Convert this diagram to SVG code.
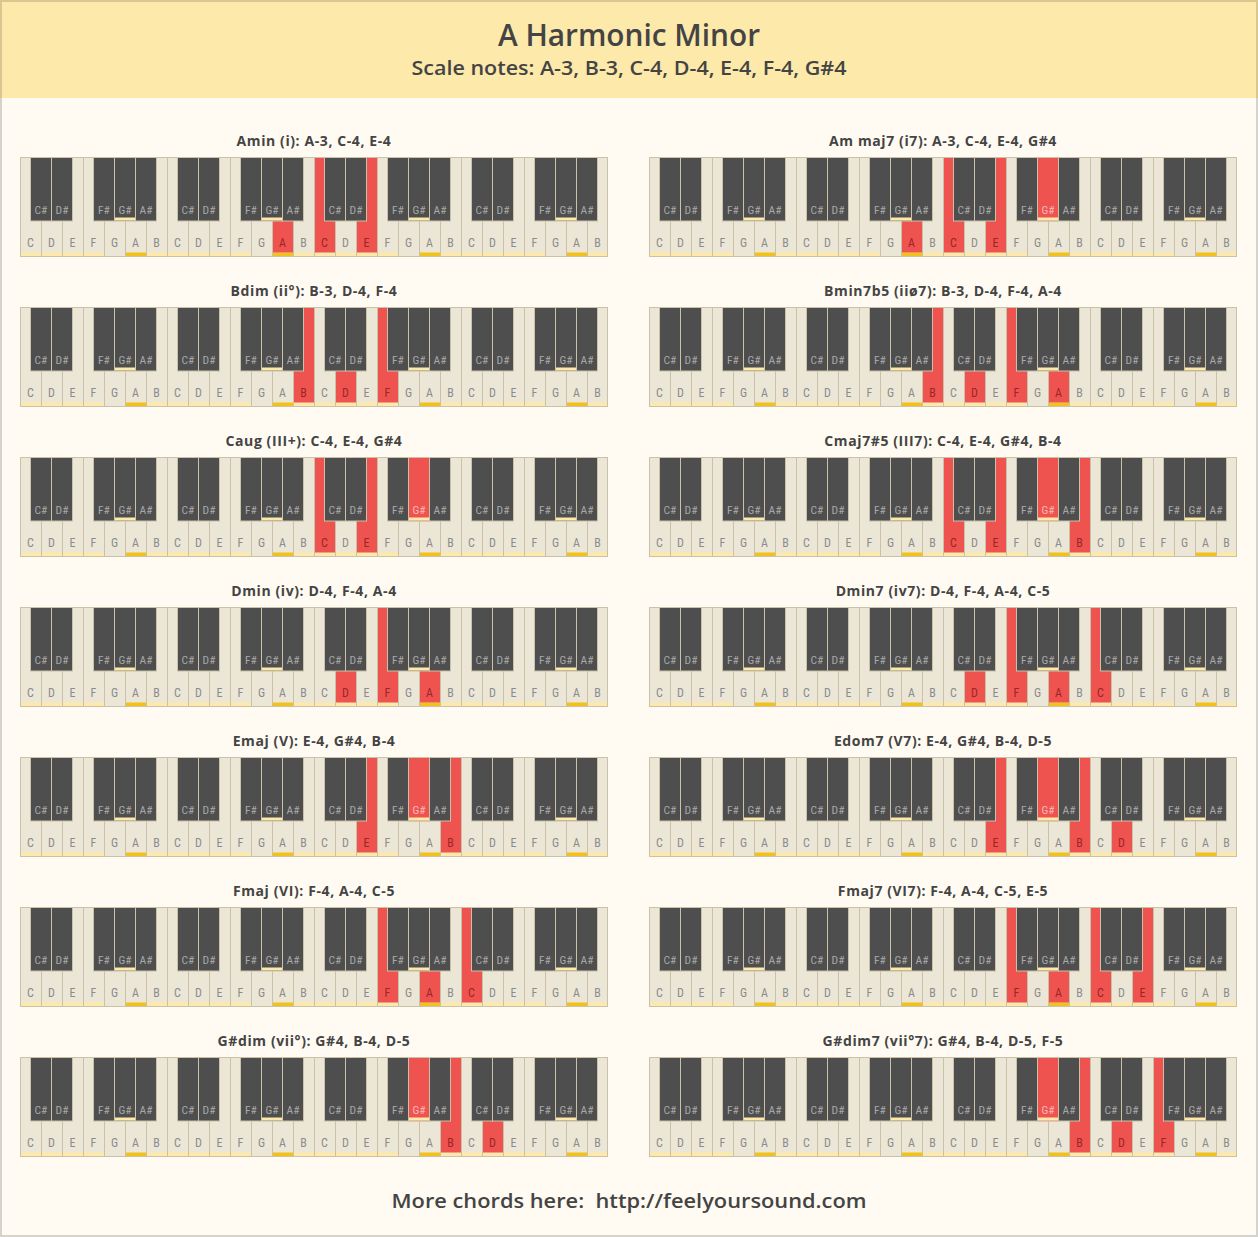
<svg xmlns="http://www.w3.org/2000/svg" xmlns:xlink="http://www.w3.org/1999/xlink" width="1258" height="1237" viewBox="0 0 1258 1237">
<style>
.lw{font-family:'Liberation Sans Narrow','Roboto Condensed',Roboto,sans-serif;font-size:12px;fill:#8c8c8c;text-anchor:middle}
.lb{font-family:'Liberation Sans Narrow','Roboto Condensed',Roboto,sans-serif;font-size:11.5px;fill:#a8a8a8;text-anchor:middle}
.lwr{font-family:'Liberation Sans Narrow','Roboto Condensed',Roboto,sans-serif;font-size:12px;fill:#9a2626;text-anchor:middle}
.lbr{font-family:'Liberation Sans Narrow','Roboto Condensed',Roboto,sans-serif;font-size:11.5px;fill:#f7b8b5;text-anchor:middle}
.rw{fill:#ef5350}
.rb{fill:#ef5350;stroke:#c9c1a8;stroke-width:1}
.bk{fill:#4e4e4e;stroke:#c9c1a8;stroke-width:1}
.sl{fill:#fde9a9}
.sg{fill:#f2c21b}
.t{font-family:'Open Sans',sans-serif;font-weight:700;font-size:14px;letter-spacing:0.6px;fill:#444;text-anchor:middle}
.h{font-family:'Open Sans',sans-serif;font-weight:600;fill:#444;text-anchor:middle}
</style>
<defs>
<g id="whites">
<rect x="0.5" y="0.5" width="587" height="99" fill="#ebe6d6" stroke="#c9c1a8"/>
<path d="M21.5 0V100M42.5 0V100M63.5 0V100M84.5 0V100M105.5 0V100M126.5 0V100M147.5 0V100M168.5 0V100M189.5 0V100M210.5 0V100M231.5 0V100M252.5 0V100M273.5 0V100M294.5 0V100M315.5 0V100M336.5 0V100M357.5 0V100M378.5 0V100M399.5 0V100M420.5 0V100M441.5 0V100M462.5 0V100M483.5 0V100M504.5 0V100M525.5 0V100M546.5 0V100M567.5 0V100" stroke="#c9c1a8" fill="none"/>
<g class="sl">
<rect x="1" y="95.5" width="20" height="3.5"/><rect x="22" y="95.5" width="20" height="3.5"/><rect x="43" y="95.5" width="20" height="3.5"/><rect x="64" y="95.5" width="20" height="3.5"/><rect x="127" y="95.5" width="20" height="3.5"/>
<rect x="148" y="95.5" width="20" height="3.5"/><rect x="169" y="95.5" width="20" height="3.5"/><rect x="190" y="95.5" width="20" height="3.5"/><rect x="211" y="95.5" width="20" height="3.5"/><rect x="274" y="95.5" width="20" height="3.5"/>
<rect x="295" y="95.5" width="20" height="3.5"/><rect x="316" y="95.5" width="20" height="3.5"/><rect x="337" y="95.5" width="20" height="3.5"/><rect x="358" y="95.5" width="20" height="3.5"/><rect x="421" y="95.5" width="20" height="3.5"/>
<rect x="442" y="95.5" width="20" height="3.5"/><rect x="463" y="95.5" width="20" height="3.5"/><rect x="484" y="95.5" width="20" height="3.5"/><rect x="505" y="95.5" width="20" height="3.5"/><rect x="568" y="95.5" width="19" height="3.5"/>
</g>
<g class="sg">
<rect x="106" y="95.5" width="20" height="3.5"/><rect x="253" y="95.5" width="20" height="3.5"/><rect x="400" y="95.5" width="20" height="3.5"/><rect x="547" y="95.5" width="20" height="3.5"/>
</g>
<g class="lw">
<text x="10.5" y="89.5">C</text><text x="31.5" y="89.5">D</text><text x="52.5" y="89.5">E</text><text x="73.5" y="89.5">F</text><text x="94.5" y="89.5">G</text><text x="115.5" y="89.5">A</text><text x="136.5" y="89.5">B</text>
<text x="157.5" y="89.5">C</text><text x="178.5" y="89.5">D</text><text x="199.5" y="89.5">E</text><text x="220.5" y="89.5">F</text><text x="241.5" y="89.5">G</text><text x="262.5" y="89.5">A</text><text x="283.5" y="89.5">B</text>
<text x="304.5" y="89.5">C</text><text x="325.5" y="89.5">D</text><text x="346.5" y="89.5">E</text><text x="367.5" y="89.5">F</text><text x="388.5" y="89.5">G</text><text x="409.5" y="89.5">A</text><text x="430.5" y="89.5">B</text>
<text x="451.5" y="89.5">C</text><text x="472.5" y="89.5">D</text><text x="493.5" y="89.5">E</text><text x="514.5" y="89.5">F</text><text x="535.5" y="89.5">G</text><text x="556.5" y="89.5">A</text><text x="577.5" y="89.5">B</text>
</g>
</g>
<g id="blacks">
<g class="bk">
<rect x="10.5" y="0.5" width="21" height="63.5"/><rect x="31.5" y="0.5" width="21" height="63.5"/><rect x="73.5" y="0.5" width="21" height="63.5"/><rect x="94.5" y="0.5" width="21" height="63.5"/><rect x="115.5" y="0.5" width="21" height="63.5"/>
<rect x="157.5" y="0.5" width="21" height="63.5"/><rect x="178.5" y="0.5" width="21" height="63.5"/><rect x="220.5" y="0.5" width="21" height="63.5"/><rect x="241.5" y="0.5" width="21" height="63.5"/><rect x="262.5" y="0.5" width="21" height="63.5"/>
<rect x="304.5" y="0.5" width="21" height="63.5"/><rect x="325.5" y="0.5" width="21" height="63.5"/><rect x="367.5" y="0.5" width="21" height="63.5"/><rect x="388.5" y="0.5" width="21" height="63.5"/><rect x="409.5" y="0.5" width="21" height="63.5"/>
<rect x="451.5" y="0.5" width="21" height="63.5"/><rect x="472.5" y="0.5" width="21" height="63.5"/><rect x="514.5" y="0.5" width="21" height="63.5"/><rect x="535.5" y="0.5" width="21" height="63.5"/><rect x="556.5" y="0.5" width="21" height="63.5"/>
</g>
<g class="lb">
<text x="21" y="56.5">C#</text><text x="42" y="56.5">D#</text><text x="84" y="56.5">F#</text><text x="105" y="56.5">G#</text><text x="126" y="56.5">A#</text>
<text x="168" y="56.5">C#</text><text x="189" y="56.5">D#</text><text x="231" y="56.5">F#</text><text x="252" y="56.5">G#</text><text x="273" y="56.5">A#</text>
<text x="315" y="56.5">C#</text><text x="336" y="56.5">D#</text><text x="378" y="56.5">F#</text><text x="399" y="56.5">G#</text><text x="420" y="56.5">A#</text>
<text x="462" y="56.5">C#</text><text x="483" y="56.5">D#</text><text x="525" y="56.5">F#</text><text x="546" y="56.5">G#</text><text x="567" y="56.5">A#</text>
</g>
</g>
<g id="bstrips" class="sl">
<rect x="95" y="60.5" width="20" height="3"/><rect x="242" y="60.5" width="20" height="3"/><rect x="389" y="60.5" width="20" height="3"/><rect x="536" y="60.5" width="20" height="3"/>
</g>
<g id="gs">
<rect class="rb" x="388.5" y="0.5" width="21" height="63.5"/><text class="lbr" x="399" y="56.5">G#</text>
</g>
<g id="wA3"><rect class="rw" x="253" y="1" width="20" height="94.5"/><text class="lwr" x="262.5" y="89.5">A</text></g>
<g id="wB3"><rect class="rw" x="274" y="1" width="20" height="94.5"/><text class="lwr" x="283.5" y="89.5">B</text></g>
<g id="wC4"><rect class="rw" x="295" y="1" width="20" height="94.5"/><text class="lwr" x="304.5" y="89.5">C</text></g>
<g id="wD4"><rect class="rw" x="316" y="1" width="20" height="94.5"/><text class="lwr" x="325.5" y="89.5">D</text></g>
<g id="wE4"><rect class="rw" x="337" y="1" width="20" height="94.5"/><text class="lwr" x="346.5" y="89.5">E</text></g>
<g id="wF4"><rect class="rw" x="358" y="1" width="20" height="94.5"/><text class="lwr" x="367.5" y="89.5">F</text></g>
<g id="wA4"><rect class="rw" x="400" y="1" width="20" height="94.5"/><text class="lwr" x="409.5" y="89.5">A</text></g>
<g id="wB4"><rect class="rw" x="421" y="1" width="20" height="94.5"/><text class="lwr" x="430.5" y="89.5">B</text></g>
<g id="wC5"><rect class="rw" x="442" y="1" width="20" height="94.5"/><text class="lwr" x="451.5" y="89.5">C</text></g>
<g id="wD5"><rect class="rw" x="463" y="1" width="20" height="94.5"/><text class="lwr" x="472.5" y="89.5">D</text></g>
<g id="wE5"><rect class="rw" x="484" y="1" width="20" height="94.5"/><text class="lwr" x="493.5" y="89.5">E</text></g>
<g id="wF5"><rect class="rw" x="505" y="1" width="20" height="94.5"/><text class="lwr" x="514.5" y="89.5">F</text></g>
</defs>

<rect x="0" y="0" width="1258" height="1237" fill="#fffbf2"/>
<rect x="0" y="0" width="1258" height="98" fill="#fde9a9"/>
<path d="M1 98V1H1257V98" fill="none" stroke="#d8c78f" stroke-width="2"/>
<path d="M1 98V1236H1257V98" fill="none" stroke="#d4d3ce" stroke-width="2"/>

<g id="header">
<text class="h" x="629" y="46" font-size="30" textLength="262" lengthAdjust="spacingAndGlyphs">A Harmonic Minor</text>
<text class="h" x="629" y="75" font-size="19" textLength="435" lengthAdjust="spacingAndGlyphs">Scale notes: A-3, B-3, C-4, D-4, E-4, F-4, G#4</text>
</g>

<g id="chord-amin">
<text class="t" x="314" y="146">Amin (i): A-3, C-4, E-4</text>
<g transform="translate(20,157)"><use href="#whites"/><use href="#wA3"/><use href="#wC4"/><use href="#wE4"/><use href="#blacks"/><use href="#bstrips"/></g>
</g>
<g id="chord-ammaj7">
<text class="t" x="943" y="146">Am maj7 (i7): A-3, C-4, E-4, G#4</text>
<g transform="translate(649,157)"><use href="#whites"/><use href="#wA3"/><use href="#wC4"/><use href="#wE4"/><use href="#blacks"/><use href="#gs"/><use href="#bstrips"/></g>
</g>

<g id="chord-bdim">
<text class="t" x="314" y="296">Bdim (ii°): B-3, D-4, F-4</text>
<g transform="translate(20,307)"><use href="#whites"/><use href="#wB3"/><use href="#wD4"/><use href="#wF4"/><use href="#blacks"/><use href="#bstrips"/></g>
</g>
<g id="chord-bmin7b5">
<text class="t" x="943" y="296">Bmin7b5 (iiø7): B-3, D-4, F-4, A-4</text>
<g transform="translate(649,307)"><use href="#whites"/><use href="#wB3"/><use href="#wD4"/><use href="#wF4"/><use href="#wA4"/><use href="#blacks"/><use href="#bstrips"/></g>
</g>

<g id="chord-caug">
<text class="t" x="314" y="446">Caug (III+): C-4, E-4, G#4</text>
<g transform="translate(20,457)"><use href="#whites"/><use href="#wC4"/><use href="#wE4"/><use href="#blacks"/><use href="#gs"/><use href="#bstrips"/></g>
</g>
<g id="chord-cmaj7s5">
<text class="t" x="943" y="446">Cmaj7#5 (III7): C-4, E-4, G#4, B-4</text>
<g transform="translate(649,457)"><use href="#whites"/><use href="#wC4"/><use href="#wE4"/><use href="#wB4"/><use href="#blacks"/><use href="#gs"/><use href="#bstrips"/></g>
</g>

<g id="chord-dmin">
<text class="t" x="314" y="596">Dmin (iv): D-4, F-4, A-4</text>
<g transform="translate(20,607)"><use href="#whites"/><use href="#wD4"/><use href="#wF4"/><use href="#wA4"/><use href="#blacks"/><use href="#bstrips"/></g>
</g>
<g id="chord-dmin7">
<text class="t" x="943" y="596">Dmin7 (iv7): D-4, F-4, A-4, C-5</text>
<g transform="translate(649,607)"><use href="#whites"/><use href="#wD4"/><use href="#wF4"/><use href="#wA4"/><use href="#wC5"/><use href="#blacks"/><use href="#bstrips"/></g>
</g>

<g id="chord-emaj">
<text class="t" x="314" y="746">Emaj (V): E-4, G#4, B-4</text>
<g transform="translate(20,757)"><use href="#whites"/><use href="#wE4"/><use href="#wB4"/><use href="#blacks"/><use href="#gs"/><use href="#bstrips"/></g>
</g>
<g id="chord-edom7">
<text class="t" x="943" y="746">Edom7 (V7): E-4, G#4, B-4, D-5</text>
<g transform="translate(649,757)"><use href="#whites"/><use href="#wE4"/><use href="#wB4"/><use href="#wD5"/><use href="#blacks"/><use href="#gs"/><use href="#bstrips"/></g>
</g>

<g id="chord-fmaj">
<text class="t" x="314" y="896">Fmaj (VI): F-4, A-4, C-5</text>
<g transform="translate(20,907)"><use href="#whites"/><use href="#wF4"/><use href="#wA4"/><use href="#wC5"/><use href="#blacks"/><use href="#bstrips"/></g>
</g>
<g id="chord-fmaj7">
<text class="t" x="943" y="896">Fmaj7 (VI7): F-4, A-4, C-5, E-5</text>
<g transform="translate(649,907)"><use href="#whites"/><use href="#wF4"/><use href="#wA4"/><use href="#wC5"/><use href="#wE5"/><use href="#blacks"/><use href="#bstrips"/></g>
</g>

<g id="chord-gsdim">
<text class="t" x="314" y="1046">G#dim (vii°): G#4, B-4, D-5</text>
<g transform="translate(20,1057)"><use href="#whites"/><use href="#wB4"/><use href="#wD5"/><use href="#blacks"/><use href="#gs"/><use href="#bstrips"/></g>
</g>
<g id="chord-gsdim7">
<text class="t" x="943" y="1046">G#dim7 (vii°7): G#4, B-4, D-5, F-5</text>
<g transform="translate(649,1057)"><use href="#whites"/><use href="#wB4"/><use href="#wD5"/><use href="#wF5"/><use href="#blacks"/><use href="#gs"/><use href="#bstrips"/></g>
</g>

<g id="footer">
<text class="h" x="629" y="1208" font-size="20" font-weight="700" textLength="475" lengthAdjust="spacingAndGlyphs" xml:space="preserve">More chords here:  http://feelyoursound.com</text>
</g>
</svg>
